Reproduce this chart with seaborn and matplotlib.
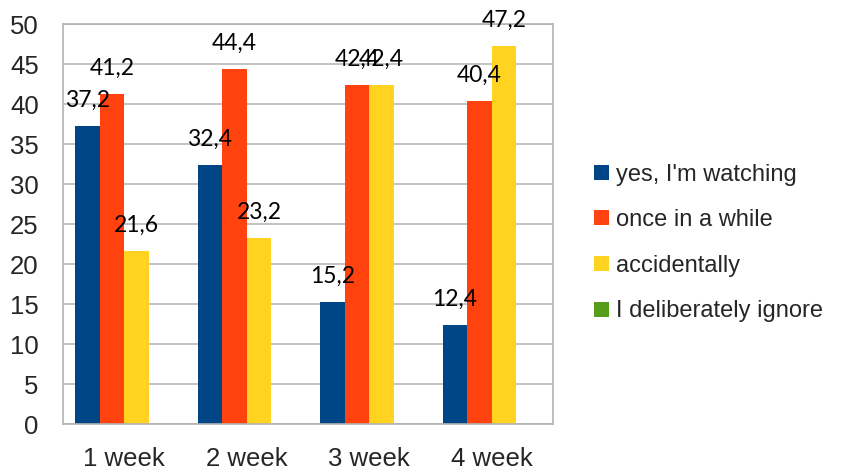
import matplotlib
matplotlib.use("Agg")
import matplotlib.pyplot as plt
from matplotlib.patches import Patch
import seaborn as sns
import pandas as pd

weeks = ["1 week", "2 week", "3 week", "4 week"]
series = ["yes, I'm watching", "once in a while", "accidentally", "I deliberately ignore"]
watching = [37.2, 32.4, 15.2, 12.4]
once_in_a_while = [41.2, 44.4, 42.4, 40.4]
accidentally = [21.6, 23.2, 42.4, 47.2]
deliberately_ignore = [0, 0, 0, 0]
colors = ["#004586", "#ff420e", "#ffd320", "#579d1c"]
yticks = list(range(0, 51, 5))

rows = []
for name, vals in zip(series, [watching, once_in_a_while, accidentally, deliberately_ignore]):
    for w, v in zip(weeks, vals):
        rows.append({"week": w, "series": name, "value": v})
df = pd.DataFrame(rows)

sns.set_style("white")
plt.rcParams["font.family"] = ["Liberation Sans", "DejaVu Sans"]

grid_col = "#b3b3b3"
fig = plt.figure(figsize=(8.46, 4.70), dpi=100)
ax = fig.add_axes([63 / 846, 46 / 470, 490 / 846, 400 / 470])

sns.barplot(data=df, x="week", y="value", hue="series", order=weeks,
            hue_order=series, palette=colors, saturation=1, width=0.8,
            errorbar=None, linewidth=0, ax=ax, legend=False)

ax.set_ylim(0, 50)
ax.set_xlim(-0.5, 3.5)
ax.set_yticks(yticks)
ax.set_yticklabels([str(t) for t in yticks], fontsize=18.5)
ax.set_xticks(range(len(weeks)))
ax.set_xticklabels(weeks, fontsize=18.5)
ax.set_xticks([i - 0.5 for i in range(len(weeks) + 1)], minor=True)
ax.tick_params(axis="x", which="major", length=0, pad=16.5)
ax.tick_params(axis="x", which="minor", length=7, width=1.2, color=grid_col)
ax.tick_params(axis="y", length=7, width=1.2, color=grid_col, pad=10.5)
ax.set_xlabel("")
ax.set_ylabel("")
ax.yaxis.grid(True, color=grid_col, linewidth=1.1)
ax.set_axisbelow(True)
for side in ["left", "right", "top", "bottom"]:
    ax.spines[side].set_visible(True)
    ax.spines[side].set_color(grid_col)
    ax.spines[side].set_linewidth(1.2)

# value labels above each bar, decimal comma
for container, vals in zip(ax.containers, [watching, once_in_a_while, accidentally, deliberately_ignore]):
    for bar, v in zip(container, vals):
        if v == 0:
            continue
        ax.annotate(f"{v:.1f}".replace(".", ","),
                    xy=(bar.get_x() + bar.get_width() / 2, v),
                    xytext=(0, 14), textcoords="offset points",
                    ha="center", va="baseline", fontsize=16.5,
                    family=["Lato", "DejaVu Sans"], color="black")

handles = [Patch(facecolor=c, edgecolor="none") for c in colors]
fig.legend(handles, series, loc="center left", bbox_to_anchor=(585 / 846, 1 - 243 / 470),
           frameon=False, fontsize=17, handlelength=0.6, handleheight=0.6,
           handletextpad=0.3, labelspacing=1.0, borderaxespad=0)

fig.savefig("out.png", dpi=100)
